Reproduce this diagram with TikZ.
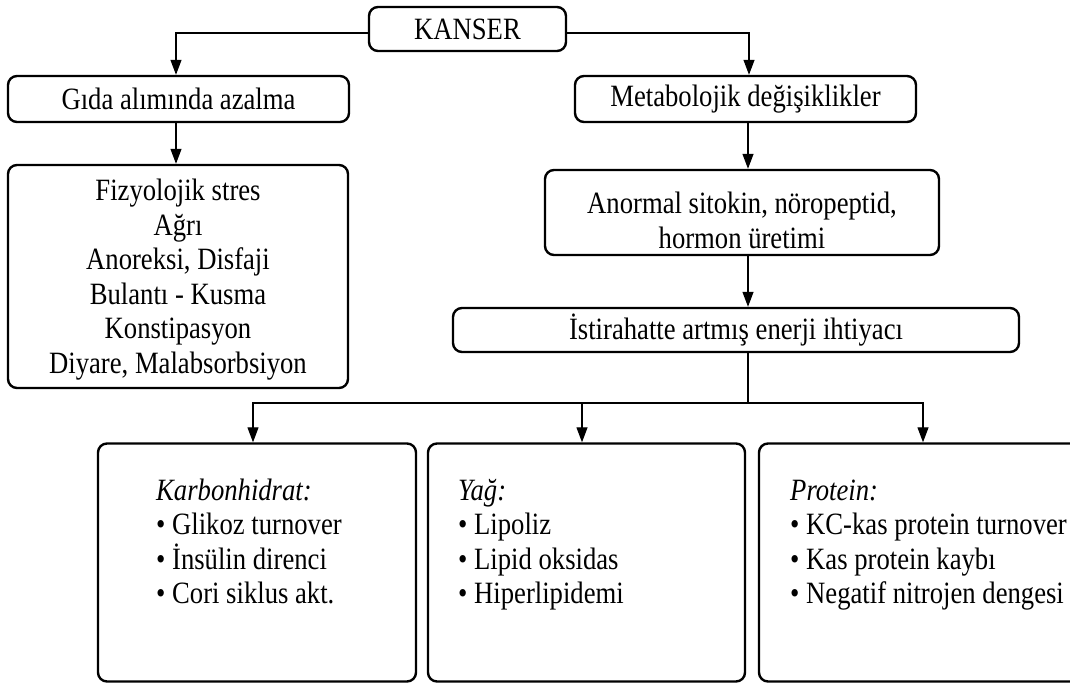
\documentclass[tikz,border=0pt]{standalone}
\usepackage{fontspec}
\setmainfont{Liberation Serif}[FakeStretch=0.86]
\usetikzlibrary{arrows.meta}
\newcommand{\bigfont}{\fontsize{31}{34.5}\selectfont}
\tikzset{
  box/.style={draw, line width=2.4pt, rounded corners=9pt, inner sep=0pt, align=center, font=\bigfont},
  ctxt/.style={inner sep=0pt, align=center, font=\bigfont},
  conn/.style={line width=1.2pt},
  arr/.style={conn, -{Triangle[length=15pt,width=11pt]}},
  txt/.style={inner sep=0pt, anchor=base west, font=\bigfont}
}
\begin{document}
\begin{tikzpicture}[x=1pt,y=1pt]
\useasboundingbox (0,0) rectangle (1070,-684);
\clip (0,0) rectangle (1070,-684);

% boxes
\node[box, minimum width=197pt, minimum height=44pt] (kanser) at (467.5,-29) {KANSER};
\node[box, minimum width=341pt, minimum height=46pt] (gida) at (178.5,-99) {Gıda alımında azalma};
\node[box, minimum width=341pt, minimum height=46pt] (meta) at (745.5,-99) {Metabolojik değişiklikler};
\node[box, minimum width=340pt, minimum height=223pt] (fiz) at (178,-276.5) {};
\node[ctxt] (fiztxt) at ([yshift=-3pt]fiz.center)
  {Fizyolojik stres\\Ağrı\\Anoreksi, Disfaji\\Bulantı - Kusma\\Konstipasyon\\Diyare, Malabsorbsiyon};
\node[box, minimum width=394pt, minimum height=85pt] (anormal) at (742,-212.5) {};
\node[ctxt] (anormaltxt) at ([yshift=-8pt]anormal.center)
  {Anormal sitokin, nöropeptid,\\hormon üretimi};
\node[box, minimum width=566pt, minimum height=44pt] (ist) at (736,-330) {İstirahatte artmış enerji ihtiyacı};
\node[box, minimum width=318pt, minimum height=238pt] (karb) at (257,-562.5) {};
\node[box, minimum width=317pt, minimum height=238pt] (yag) at (586.5,-562.5) {};
\node[box, minimum width=336pt, minimum height=238pt] (prot) at (927,-562.5) {};

% texts in bottom boxes
\node[txt] (k0) at (156,-500) {\itshape Karbonhidrat:};
\node[txt] (k1) at (156,-534.5) {• Glikoz turnover};
\node[txt] (k2) at (156,-569) {• İnsülin direnci};
\node[txt] (k3) at (156,-603.5) {• Cori siklus akt.};

\node[txt] (y0) at (458,-500) {\itshape Yağ:};
\node[txt] (y1) at (458,-534.5) {• Lipoliz};
\node[txt] (y2) at (458,-569) {• Lipid oksidas};
\node[txt] (y3) at (458,-603.5) {• Hiperlipidemi};

\node[txt] (p0) at (790,-500) {\itshape Protein:};
\node[txt] (p1) at (790,-534.5) {• KC-kas protein turnover};
\node[txt] (p2) at (790,-569) {• Kas protein kaybı};
\node[txt] (p3) at (790,-603.5) {• Negatif nitrojen dengesi};

% connectors
\draw[arr] ([yshift=-4pt]kanser.west) -| ([xshift=-2.5pt]gida.north);
\draw[arr] ([yshift=-4pt]kanser.east) -| ([xshift=3.5pt]meta.north);
\draw[arr] ([xshift=-2.5pt]gida.south) -- ([xshift=-2pt]fiz.north);
\draw[arr] ([xshift=2.5pt]meta.south) -- ([xshift=6pt]anormal.north);
\draw[arr] ([xshift=6pt]anormal.south) -- ([xshift=12pt]ist.north);
\coordinate (split) at (748,-403);
\draw[conn] ([xshift=12pt]ist.south) -- (split);
\draw[arr] (split) -| ([xshift=-4pt]karb.north);
\draw[arr] (split) -| ([xshift=-4.5pt]yag.north);
\draw[arr] (split) -| ([xshift=-4pt]prot.north);
\end{tikzpicture}
\end{document}
